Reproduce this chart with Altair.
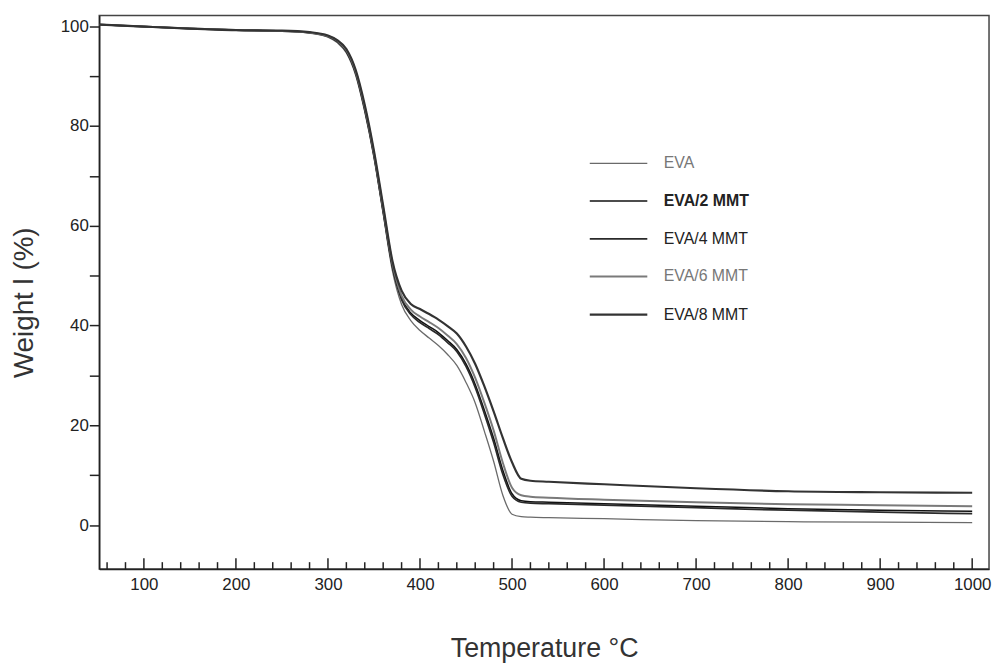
import altair as alt
import pandas as pd

temps = [52, 100, 150, 200, 250, 280, 300, 310, 320, 330, 340, 350, 360,
         370, 380, 390, 400, 410, 420, 430, 440, 450, 460, 470, 480, 490,
         500, 510, 520, 540, 600, 700, 800, 900, 1000]

eva = [100.3, 99.9, 99.5, 99.2, 99.0, 98.6, 97.8, 96.7, 94.6, 90.2, 82.8, 73.6, 62.4,
       51.0, 44.2, 41.0, 39.0, 37.5, 36.0, 34.2, 32.0, 28.6, 24.5, 18.8, 12.8, 6.0,
       2.2, 1.7, 1.6, 1.5, 1.3, 0.9, 0.7, 0.6, 0.5]
eva2 = [100.3, 99.9, 99.5, 99.2, 99.0, 98.7, 98.0, 97.0, 95.0, 90.8, 83.4, 74.2, 63.0,
        52.0, 45.5, 42.5, 41.0, 39.8, 38.6, 37.0, 35.2, 32.3, 28.2, 23.0, 17.4, 11.0,
        6.3, 4.9, 4.7, 4.6, 4.3, 3.8, 3.3, 3.0, 2.8]
eva4 = [100.3, 99.9, 99.5, 99.2, 99.0, 98.7, 97.9, 96.9, 94.9, 90.6, 83.2, 74.0, 62.8,
        51.8, 45.2, 42.2, 40.6, 39.4, 38.2, 36.6, 34.8, 31.8, 27.6, 22.3, 16.6, 10.2,
        5.8, 4.6, 4.4, 4.3, 4.0, 3.5, 3.0, 2.6, 2.3]
eva6 = [100.3, 99.9, 99.5, 99.2, 99.0, 98.7, 98.0, 97.1, 95.2, 91.0, 83.8, 74.6, 63.5,
        52.5, 46.0, 43.2, 41.8, 40.7, 39.5, 38.0, 36.3, 33.5, 29.5, 24.5, 19.0, 12.5,
        7.5, 6.0, 5.7, 5.5, 5.1, 4.6, 4.2, 4.0, 3.8]
eva8 = [100.3, 99.9, 99.5, 99.2, 99.1, 98.8, 98.1, 97.2, 95.4, 91.3, 84.2, 75.0, 64.0,
        53.0, 47.0, 44.3, 43.3, 42.3, 41.2, 39.9, 38.4, 35.8, 32.3, 27.8, 22.8, 17.5,
        12.6, 9.3, 8.9, 8.7, 8.2, 7.4, 6.8, 6.6, 6.5]

series_names = ["EVA", "EVA/2 MMT", "EVA/4 MMT", "EVA/6 MMT", "EVA/8 MMT"]
series_values = [eva, eva2, eva4, eva6, eva8]
series_colors = ["#6a6a6a", "#111111", "#2a2a2a", "#7a7a7a", "#333333"]
series_widths = [1.3, 2.2, 1.5, 1.3, 1.5]

x_label_values = [100, 200, 300, 400, 500, 600, 700, 800, 900, 1000]
x_minor_ticks = [60, 80, 120, 140, 160, 180, 220, 240, 260, 280, 320, 340, 360, 380,
                 420, 440, 460, 480, 520, 540, 560, 580, 620, 640, 660, 680,
                 720, 740, 760, 780, 820, 840, 860, 880, 920, 940, 960, 980]
y_tick_values = list(range(0, 101, 10))

rows = []
for name, vals in zip(series_names, series_values):
    for t, w in zip(temps, vals):
        rows.append({"T": t, "W": w, "series": name})
df = pd.DataFrame(rows)

W, H = 897, 558
FONT = "Liberation Sans"

xscale = alt.Scale(domain=[51.5, 1018.3], nice=False, zero=False)
yscale = alt.Scale(domain=[-8.8, 102.1], nice=False, zero=False)

legend_kw = dict(
    title=None, orient="none", legendX=493, legendY=119,
    symbolType="stroke", symbolSize=3364, labelFont=FONT,
    labelFontSize=16, labelOffset=15, rowPadding=0,
    labelColor={"expr": "(datum.label == 'EVA' || datum.label == 'EVA/6 MMT') ? '#777777' : '#222222'"},
    labelFontWeight={"expr": "datum.label == 'EVA/2 MMT' ? 'bold' : 'normal'"},
)

lines = alt.Chart(df).mark_line(interpolate="monotone").encode(
    x=alt.X("T:Q", scale=xscale, title="Temperature °C",
            axis=alt.Axis(values=x_label_values, format="d", ticks=False, tickSize=0,
                          labelPadding=8, labelFontSize=17, labelFont=FONT,
                          labelColor="#222", domainColor="#222", domainWidth=1.5,
                          grid=False, titleFont=FONT, titleFontSize=27,
                          titleFontWeight="normal", titleColor="#333",
                          titlePadding=43, labelFlush=False)),
    y=alt.Y("W:Q", scale=yscale, title="Weight l (%)",
            axis=alt.Axis(values=y_tick_values,
                          labelExpr="datum.value % 20 === 0 ? datum.label : ''",
                          tickSize=10, tickColor="#222", tickWidth=1.5, labelPadding=1,
                          labelFontSize=17, labelFont=FONT, labelColor="#222",
                          domainColor="#222", domainWidth=1.5, grid=False,
                          titleFont=FONT, titleFontSize=28, titleFontWeight="normal",
                          titleColor="#333", titlePadding=22, titleY=289)),
    color=alt.Color("series:N",
                    scale=alt.Scale(domain=series_names, range=series_colors),
                    legend=alt.Legend(**legend_kw)),
    strokeWidth=alt.StrokeWidth("series:N",
                                scale=alt.Scale(domain=series_names, range=series_widths),
                                legend=alt.Legend(**legend_kw)),
    detail="series:N",
)

major_df = pd.DataFrame({"tick": x_label_values})
minor_df = pd.DataFrame({"tick": x_minor_ticks})

major_ticks = alt.Chart(major_df).mark_rule(color="#222", strokeWidth=1.5).encode(
    x=alt.X("tick:Q", scale=xscale),
    y=alt.value(H), y2=alt.value(H - 11),
)
minor_ticks = alt.Chart(minor_df).mark_rule(color="#222", strokeWidth=1.5).encode(
    x=alt.X("tick:Q", scale=xscale),
    y=alt.value(H), y2=alt.value(H - 7),
)

chart = alt.layer(lines, major_ticks, minor_ticks).properties(
    width=W, height=H,
    autosize=alt.AutoSizeParams(type="none"),
    padding={"left": 92, "top": 5, "right": 3, "bottom": 93},
).configure_view(stroke="#444", strokeWidth=1.5)

chart.save("out.html", embed_options={"renderer": "svg", "actions": False})
